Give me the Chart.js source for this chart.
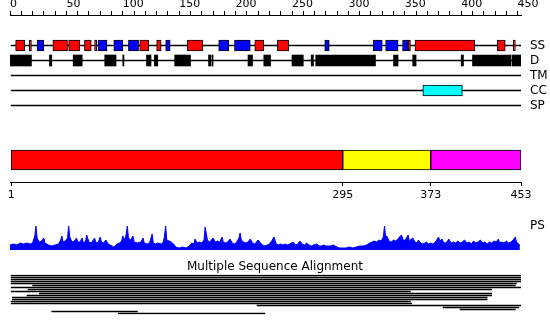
<!DOCTYPE html>
<html>
<head>
<meta charset="utf-8">
<script src="https://cdn.jsdelivr.net/npm/chart.js@4.4.1/dist/chart.umd.min.js"></script>
<style>
  html, body { margin: 0; padding: 0; background: #fff; }
  #wrap { position: relative; width: 550px; height: 335px; overflow: hidden; }
  #wrap canvas { position: absolute; left: 0; }
</style>
</head>
<body>
<div id="wrap">
  <canvas id="ruler" width="550" height="20" style="top:0px"></canvas>
  <canvas id="tracks" width="550" height="75" style="top:38px"></canvas>
  <canvas id="domains" width="550" height="70" style="top:138px"></canvas>
  <canvas id="profile" width="550" height="30" style="top:220px"></canvas>
  <canvas id="msa" width="550" height="56" style="top:259px"></canvas>
</div>
<script>
(function () {
  'use strict';

  // ── data ──
  const seqLength = 453;
  const rulerTicks = [0, 10, 20, 30, 40, 50, 60, 70, 80, 90, 100, 110, 120, 130, 140, 150, 160, 170, 180, 190,
    200, 210, 220, 230, 240, 250, 260, 270, 280, 290, 300, 310, 320, 330, 340, 350, 360, 370, 380, 390,
    400, 410, 420, 430, 440, 450];
  const trackNames = ['SS', 'D', 'TM', 'CC', 'SP'];

  const helix = [[5, 13], [17, 19], [38, 51], [52, 62], [66, 72], [75, 77], [115, 123], [130, 134],
    [157, 171], [217, 225], [237, 247], [353, 355], [359, 412], [432, 439], [446, 448]];
  const strand = [[24, 30], [78, 86], [92, 100], [105, 114], [138, 142], [185, 194], [199, 213],
    [279, 283], [322, 330], [333, 344], [348, 353]];
  const disorder = [[0, 19], [35, 37], [56, 64], [84, 94], [100, 101], [121, 125], [128, 131], [146, 160],
    [176, 178], [179, 180], [211, 215], [225, 231], [250, 260], [267, 269], [271, 324], [340, 344],
    [357, 360], [400, 402], [410, 444], [445, 453]];
  const coiledCoil = [[366, 401]];

  const domainRanges = [[1, 295], [295, 373], [373, 453]];
  const domainColors = ['#ff0000', '#ffff00', '#ff00ff'];
  const domainTicks = [1, 295, 373, 453];

  const psResidue = [0, 3, 6, 9, 12, 15, 18, 20, 22, 23, 24, 26, 28, 30, 31, 34, 37, 40, 43, 45,
    46, 47, 49, 51, 52, 53, 55, 57, 59, 60, 62, 64, 65, 67, 68, 70, 72, 75, 76, 78,
    80, 81, 83, 85, 87, 89, 92, 93, 95, 97, 99, 100, 102, 103, 104, 105, 107, 109, 110, 113,
    116, 118, 119, 122, 124, 126, 127, 129, 131, 134, 136, 137, 138, 139, 141, 143, 145, 147, 150, 153,
    156, 159, 161, 163, 164, 166, 168, 170, 172, 173, 175, 177, 180, 182, 184, 186, 188, 189, 191, 193,
    195, 197, 199, 201, 203, 204, 205, 207, 209, 211, 213, 215, 217, 220, 222, 224, 226, 228, 230, 232,
    234, 236, 238, 240, 242, 244, 246, 248, 251, 253, 255, 257, 259, 261, 263, 265, 267, 269, 272, 274,
    276, 278, 280, 282, 284, 287, 288, 290, 292, 295, 298, 301, 304, 307, 310, 313, 316, 319, 321, 323,
    325, 327, 329, 331, 332, 333, 334, 336, 338, 340, 342, 344, 346, 347, 349, 351, 353, 354, 356, 357,
    359, 361, 362, 364, 366, 368, 369, 371, 373, 375, 377, 380, 381, 383, 384, 386, 388, 389, 391, 393,
    395, 397, 399, 401, 403, 405, 407, 409, 411, 413, 415, 417, 419, 421, 423, 425, 427, 429, 431, 433,
    434, 436, 438, 440, 442, 444, 446, 448, 449, 451, 452];
  const psValue = [5, 6, 5, 7, 6, 7, 6, 7, 14, 24, 12, 8, 9, 12, 7, 5, 4, 5, 6, 10,
    14, 8, 9, 12, 24, 13, 8, 9, 12, 8, 8, 12, 7, 9, 15, 8, 7, 12, 8, 7,
    13, 8, 7, 10, 6, 5, 3, 4, 6, 7, 9, 14, 10, 16, 24, 12, 10, 14, 8, 7,
    8, 12, 7, 6, 8, 16, 7, 6, 7, 6, 8, 14, 24, 10, 9, 8, 6, 3, 2, 3,
    2, 4, 7, 6, 11, 7, 8, 7, 10, 23, 10, 8, 12, 8, 9, 8, 13, 8, 7, 8,
    11, 7, 6, 8, 12, 17, 10, 8, 7, 8, 11, 7, 6, 10, 7, 5, 4, 5, 6, 9,
    13, 6, 5, 6, 5, 6, 5, 6, 8, 5, 6, 9, 6, 5, 7, 5, 4, 5, 6, 4,
    4, 5, 4, 4, 4, 5, 4, 3, 2, 2, 2, 3, 2, 3, 4, 4, 5, 7, 8, 9,
    8, 10, 9, 13, 24, 13, 14, 9, 8, 10, 9, 11, 14, 15, 9, 11, 15, 9, 11, 12,
    8, 7, 10, 7, 6, 7, 8, 6, 7, 6, 8, 13, 9, 11, 8, 7, 9, 11, 7, 8,
    7, 9, 7, 8, 10, 7, 8, 6, 9, 7, 8, 10, 7, 8, 6, 8, 7, 9, 8, 11,
    7, 8, 7, 9, 7, 8, 10, 13, 8, 6, 4];

  const msaRows = [[1, 453], [1, 453], [1, 453], [1, 453], [1, 449], [20, 448], [1, 453], [16, 427],
    [1, 355], [26, 427], [15, 427], [2, 423], [2, 423], [1, 355], [1, 356], [219, 453],
    [384, 451], [399, 448], [37, 113], [96, 226]];

  // ── defaults ──
  Chart.defaults.font.family = "'DejaVu Sans', sans-serif";
  Chart.defaults.color = '#000';
  Chart.defaults.animation = false;
  Chart.defaults.responsive = false;
  Chart.defaults.devicePixelRatio = 1;
  Chart.defaults.plugins.legend.display = false;
  Chart.defaults.plugins.tooltip.enabled = false;

  const xRange = { type: 'linear', min: 0, max: seqLength };
  // fixed-width side axis, no extra label padding above/below the plot
  const sideAxis = (w) => s => { s.width = w; s.paddingTop = 0; s.paddingBottom = 0; };

  // ── ruler ──
  new Chart(document.getElementById('ruler'), {
    type: 'scatter',
    data: { datasets: [{ data: [] }] },
    options: {
      layout: { padding: { left: 10, right: 29 } },
      scales: {
        x: {
          ...xRange,
          position: 'top',
          afterBuildTicks: s => { s.ticks = rulerTicks.map(v => ({ value: v })); },
          afterFit: s => { s.height = 15; },
          ticks: {
            autoSkip: false, maxRotation: 0, align: 'start', padding: 0,
            font: { size: 11 }, color: '#000',
            callback: v => (v % 50 === 0 ? String(v) : '')
          },
          grid: { drawOnChartArea: false, tickLength: 4, color: '#000' },
          border: { color: '#000' }
        },
        y: { display: false }
      }
    }
  });

  // ── feature tracks ──
  const onTrack = (ranges, name) => ranges.map(r => ({ x: r, y: name }));
  const boxStyle = { barThickness: 11, grouped: false, borderSkipped: false, borderWidth: 1, borderColor: '#000', order: 1 };

  new Chart(document.getElementById('tracks'), {
    type: 'bar',
    data: {
      labels: trackNames,
      datasets: [
        { data: trackNames.map(n => ({ x: [1, seqLength], y: n })), backgroundColor: '#000', barThickness: 1, grouped: false, order: 3 },
        { data: onTrack(helix, 'SS'), backgroundColor: '#ff0000', ...boxStyle },
        { data: onTrack(strand, 'SS'), backgroundColor: '#0000ff', ...boxStyle },
        { data: onTrack(disorder, 'D'), backgroundColor: '#000', ...boxStyle, borderWidth: 0 },
        { data: onTrack(coiledCoil, 'CC'), backgroundColor: '#00ffff', ...boxStyle }
      ]
    },
    options: {
      indexAxis: 'y',
      layout: { padding: { left: 10 } },
      scales: {
        x: { ...xRange, display: false },
        y: {
          position: 'right',
          afterFit: sideAxis(29),
          grid: { display: false },
          border: { display: false },
          ticks: { autoSkip: false, padding: 1, font: { size: 12 }, color: '#000' }
        }
      }
    }
  });

  // ── domain bar ──
  new Chart(document.getElementById('domains'), {
    type: 'bar',
    data: {
      labels: ['domains'],
      datasets: [{
        data: domainRanges.map(r => ({ x: r, y: 'domains' })),
        backgroundColor: domainColors,
        borderColor: '#000', borderWidth: 1, borderSkipped: false,
        barThickness: 20, grouped: false
      }]
    },
    options: {
      indexAxis: 'y',
      layout: { padding: { left: 10, right: 29 } },
      scales: {
        x: {
          ...xRange,
          position: 'bottom',
          afterBuildTicks: s => { s.ticks = domainTicks.map(v => ({ value: v })); },
          afterFit: s => { s.height = 26; },
          ticks: { autoSkip: false, maxRotation: 0, padding: 3, font: { size: 11 }, color: '#000' },
          grid: { drawOnChartArea: false, tickLength: 4, color: '#000' },
          border: { color: '#000' }
        },
        y: { display: false }
      }
    }
  });

  // ── PS profile ──
  new Chart(document.getElementById('profile'), {
    type: 'line',
    data: {
      datasets: [{
        data: psResidue.map((r, i) => ({ x: r, y: psValue[i] })),
        borderColor: '#0000ff', backgroundColor: '#0000ff',
        borderWidth: 1, pointRadius: 0, tension: 0, fill: 'origin'
      }]
    },
    options: {
      layout: { padding: { left: 10, top: 5 } },
      scales: {
        x: { ...xRange, display: false },
        y: {
          min: 0, max: 25,
          position: 'right',
          afterFit: sideAxis(29),
          afterBuildTicks: s => { s.ticks = [{ value: 24 }]; },
          grid: { display: false },
          border: { display: false },
          ticks: { padding: 1, font: { size: 12 }, color: '#000', callback: () => 'PS' }
        }
      }
    }
  });

  // ── multiple sequence alignment ──
  const rowIds = msaRows.map((_, i) => 'row' + (i + 1));
  new Chart(document.getElementById('msa'), {
    type: 'bar',
    data: {
      labels: rowIds,
      datasets: [{
        data: msaRows.map((r, i) => ({ x: r, y: rowIds[i] })),
        backgroundColor: '#000', barThickness: 1, grouped: false
      }]
    },
    options: {
      indexAxis: 'y',
      layout: { padding: { bottom: 0.5 } },
      plugins: {
        title: {
          display: true, text: 'Multiple Sequence Alignment',
          color: '#000', font: { size: 12, weight: 'normal' },
          padding: { top: 1.1, bottom: 0 }
        }
      },
      scales: {
        x: { ...xRange, display: false },
        y: {
          position: 'left', afterFit: sideAxis(10),
          grid: { display: false }, border: { display: false }, ticks: { display: false }
        },
        pad: {
          type: 'linear', position: 'right', afterFit: sideAxis(29),
          grid: { display: false }, border: { display: false }, ticks: { display: false }
        }
      }
    }
  });
})();
</script>
</body>
</html>
